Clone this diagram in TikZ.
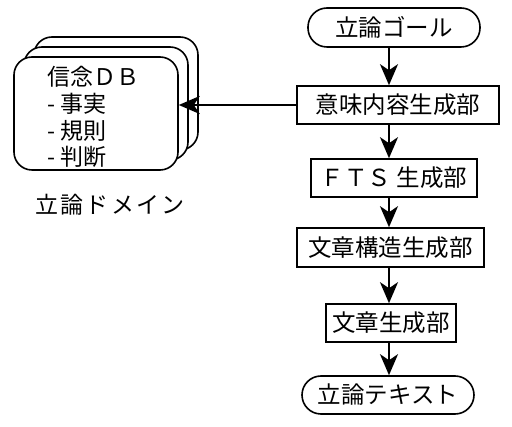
\documentclass[tikz,border=0pt]{standalone}
\usepackage{fontspec}
\newfontfamily\jp{Noto Sans CJK JP}
\newfontfamily\jpwide[LetterSpace=10]{Noto Sans CJK JP}
\usetikzlibrary{arrows.meta}
\tikzset{
  box/.style={draw, line width=1.6pt, rectangle, inner sep=0pt, font=\jp\fontsize{23.5}{27}\selectfont},
  term/.style={box, rounded corners=19pt},
  arr/.style={-{Stealth[length=21pt,width=18pt,inset=6pt]}, line width=1.9pt},
  db/.style={draw, line width=1.6pt, fill=white, rounded corners=18pt, inner sep=0pt, minimum width=164pt, minimum height=113pt},
  txt/.style={font=\jp\fontsize{23}{27}\selectfont, inner sep=0pt}
}
\begin{document}
\begin{tikzpicture}[x=1pt,y=-1pt]
\useasboundingbox[fill=white] (0,0) rectangle (512,427);
% right column
\node[term, minimum width=172pt, minimum height=39pt] (goal) at (394,27.5) {立論ゴール};
\node[box, minimum width=202pt, minimum height=38pt] (sem) at (398,105) {意味内容生成部};
\node[box, minimum width=166pt, minimum height=38pt] (fts) at (394,178) {ＦＴＳ 生成部};
\node[box, minimum width=187pt, minimum height=39pt] (struct) at (390.5,247.5) {文章構造生成部};
\node[box, minimum width=130pt, minimum height=38pt] (sent) at (391,323) {文章生成部};
\node[term, minimum width=172pt, minimum height=38pt] (text) at (388,395) {立論テキスト};
\coordinate (ax) at (389,0);
\draw[arr] (goal.south -| ax) -- (sem.north -| ax);
\draw[arr] (sem.south -| ax) -- (fts.north -| ax);
\draw[arr] (fts.south -| ax) -- (struct.north -| ax);
\draw[arr] (struct.south -| ax) -- (sent.north -| ax);
\draw[arr] (sent.south -| ax) -- (text.north -| ax);
% stacked database boxes
\node[db] (dbback) at (116,93.5) {};
\node[db] (dbmid) at (106,103.5) {};
\node[db] (db) at (96,113.5) {};
\node[txt, anchor=west] (l1) at (47,77) {信念ＤＢ};
\node[txt, anchor=west] (l2) at (47,104) {- 事実};
\node[txt, anchor=west] (l3) at (47,131) {- 規則};
\node[txt, anchor=west] (l4) at (47,157) {- 判断};
\draw[arr] (sem.west) -- (db.east |- sem.west);
\node[inner sep=0pt, font=\jpwide\fontsize{23}{27}\selectfont] (dom) at (110,205) {立論ドメイン};
\end{tikzpicture}
\end{document}
